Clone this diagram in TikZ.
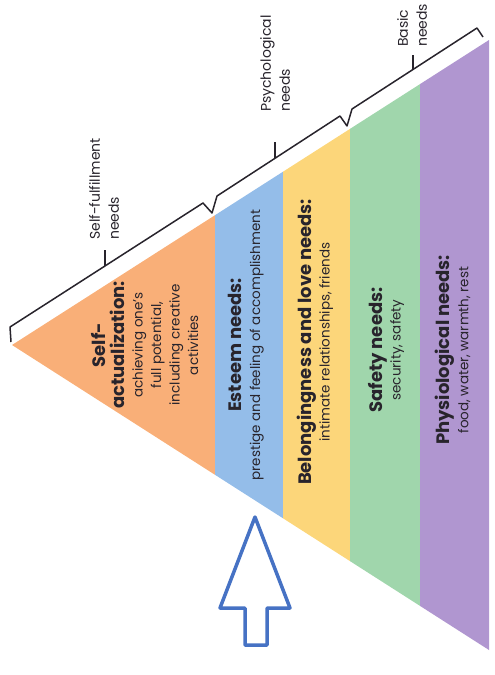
\documentclass[tikz,border=0pt]{standalone}
\usepackage{fontspec}
\setmainfont{Poppins}
\usetikzlibrary{arrows.meta,positioning,calc}
\definecolor{lvlorange}{RGB}{249,175,120}
\definecolor{lvlblue}{RGB}{148,189,233}
\definecolor{lvlyellow}{RGB}{252,214,122}
\definecolor{lvlgreen}{RGB}{160,214,172}
\definecolor{lvlpurple}{RGB}{176,150,208}
\definecolor{arrblue}{RGB}{70,114,196}
\definecolor{inkgray}{RGB}{40,36,44}
\newcommand{\lvlttl}{\fontsize{18}{18.5}\selectfont\bfseries}
\tikzset{
  lvl/.style={rotate=90, align=center, text=inkgray, inner sep=0pt,
              font=\fontsize{13.5}{18.5}\selectfont},
  grp/.style={rotate=90, align=left, anchor=west, text=inkgray, inner sep=0pt,
              font=\fontsize{14}{19}\selectfont},
  brk/.style={inkgray, line width=1.5pt, line join=round},
  bigarr/.style={draw=arrblue, line width=3.5pt, fill=white, line join=round},
}

\begin{document}
\begin{tikzpicture}[x=1pt, y=-1pt]
    \useasboundingbox (0,0) rectangle (495,675);
    % pyramid, turned on its side
    \begin{scope}
      \clip (12,345) -- (489,40) -- (489,650) -- cycle;
      \fill[lvlorange] (0,0) rectangle (215,675);
      \fill[lvlblue] (215,0) rectangle (283,675);
      \fill[lvlyellow] (283,0) rectangle (350,675);
      \fill[lvlgreen] (350,0) rectangle (420,675);
      \fill[lvlpurple] (420,0) rectangle (495,675);
    \end{scope}
    \node[lvl] (sa) at (145,345) {{\lvlttl Self-}\\{\lvlttl actualization:}\\achieving one's\\full potential,\\including creative\\activities};
    \node[lvl] (est) at (246,345) {{\lvlttl Esteem needs:}\\prestige and feeling of accomplishment};
    \node[lvl] (bel) at (315,342) {{\lvlttl Belongingness and love needs:}\\intimate relationships, friends};
    \node[lvl] (saf) at (386,350) {{\lvlttl Safety needs:}\\security, safety};
    \node[lvl] (phy) at (453,350) {{\lvlttl Physiological needs:}\\food, water, warmth, rest};
    % bracket with its notches and ticks
    \draw[brk] (11,342) -- (10,327) -- (203,203) -- (212,213) -- (217,196)
      -- (340,116) -- (347,126) -- (352,109) -- (477,28) -- (483,37);
    \draw[brk] (105,266) -- (105,250);
    \draw[brk] (275,158) -- (275,142);
    \draw[brk] (413,69) -- (413,55);
    \node[grp] (lbself) at (104,240) {Self-fulfillment\\needs};
    \node[grp] (lbpsy) at (275,112) {Psychological\\needs};
    \node[grp] (lbbas) at (412,47) {Basic\\needs};
    % arrow under the esteem band
    \draw[bigarr] (255,517) -- (290,608) -- (267,608) -- (267,645)
      -- (245,645) -- (245,608) -- (220,608) -- cycle;
  \end{tikzpicture}
\end{document}
